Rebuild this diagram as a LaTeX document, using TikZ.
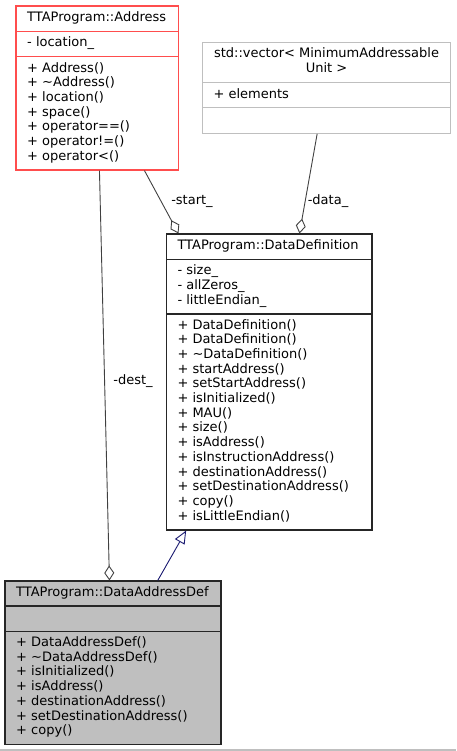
\documentclass[tikz,border=0pt]{standalone}
\usepackage{fontspec}
\setmainfont{DejaVu Sans}
\usetikzlibrary{arrows.meta}
\definecolor{edgegrey}{HTML}{404040}
\definecolor{lightgrey}{HTML}{BFBFBF}
\definecolor{addrred}{HTML}{FF4D4D}
\definecolor{basenavy}{HTML}{191970}
\definecolor{boxdark}{HTML}{262626}

\begin{document}
\begin{tikzpicture}[x=1pt,y=-1pt,font=\fontsize{13}{14.7}\selectfont]
\tikzset{
  classbox/.style={draw=#1,line width=1.1pt,inner sep=0pt},
  member/.style={anchor=base west,inner sep=0pt},
  lbl/.style={inner sep=0pt},
  aggr/.style={draw=edgegrey,line width=0.9pt,-{Diamond[open,length=15pt,width=10pt]}},
  inherit/.style={draw=basenavy,line width=0.9pt,-{Triangle[open,length=13pt,width=11pt]}}
}
\useasboundingbox (0,0) rectangle (456,751);
\draw[lightgrey,line width=1.5pt] (0,750) -- (456,750);

% TTAProgram::Address
\node[classbox=addrred,minimum width=162.3,minimum height=164] (addr) at (97.15,88) {};
\draw[addrred,line width=1.1pt] (16,31.7) -- (178.3,31.7);
\draw[addrred,line width=1.1pt] (16,56.7) -- (178.3,56.7);
\node[member] (addrname) at (27,21.3) {TTAProgram::Address};
\node[member] (addrattr) at (27,46.7) {- location\_};
\foreach \m [count=\i from 0] in {+ Address(),+ \textasciitilde Address(),+ location(),+ space(),
    + operator==(),+ operator!=(),+ operator<()}
  \node[member] (addrop\i) at (27,72.3+14.67*\i) {\m};

% std::vector< MinimumAddressable Unit >
\node[classbox=lightgrey,minimum width=247.6,minimum height=90.6] (vec) at (326.5,88) {};
\draw[lightgrey,line width=1.1pt] (202.7,82.3) -- (450.3,82.3);
\draw[lightgrey,line width=1.1pt] (202.7,107.7) -- (450.3,107.7);
\node[anchor=base,inner sep=0pt] (vecname1) at (326.5,58) {std::vector< MinimumAddressable};
\node[anchor=base,inner sep=0pt] (vecname2) at (326.5,72.3) {Unit >};
\node[member] (vecattr) at (213.3,98.3) {+ elements};

% TTAProgram::DataDefinition
\node[classbox=boxdark,minimum width=205.3,minimum height=296] (dd) at (269.35,382) {};
\draw[boxdark,line width=1.1pt] (166.7,259.3) -- (372,259.3);
\draw[boxdark,line width=1.1pt] (166.7,314) -- (372,314);
\node[member] (ddname) at (177.3,249.7) {TTAProgram::DataDefinition};
\foreach \a [count=\i from 0] in {- size\_,- allZeros\_,- littleEndian\_}
  \node[member] (ddattr\i) at (177.3,274.7+14.67*\i) {\a};
\foreach \m [count=\i from 0] in {+ DataDefinition(),+ DataDefinition(),+ \textasciitilde DataDefinition(),
    + startAddress(),+ setStartAddress(),+ isInitialized(),+ MAU(),+ size(),+ isAddress(),
    + isInstructionAddress(),+ destinationAddress(),+ setDestinationAddress(),+ copy(),
    + isLittleEndian()}
  \node[member] (ddop\i) at (177.3,329.3+14.67*\i) {\m};

% TTAProgram::DataAddressDef
\node[classbox=boxdark,fill=lightgrey,minimum width=216,minimum height=163.3] (dad) at (113,662.65) {};
\draw[boxdark,line width=1.1pt] (5,606) -- (221,606);
\draw[boxdark,line width=1.1pt] (5,631.3) -- (221,631.3);
\node[member] (dadname) at (16,596) {TTAProgram::DataAddressDef};
\foreach \m [count=\i from 0] in {+ DataAddressDef(),+ \textasciitilde DataAddressDef(),+ isInitialized(),
    + isAddress(),+ destinationAddress(),+ setDestinationAddress(),+ copy()}
  \node[member] (dadop\i) at (16,646.3+14.75*\i) {\m};

% relations
\draw[aggr] ([xshift=84pt]addr.south west) -- ([xshift=105pt]dad.north west);
\draw[aggr] ([xshift=129pt]addr.south west) -- ([xshift=12.3pt]dd.north west);
\draw[aggr] ([xshift=115pt]vec.south west) -- ([xshift=133.3pt]dd.north west);
\draw[inherit] ([xshift=153.3pt]dad.north west) -- ([xshift=20pt]dd.south west);
\node[lbl] (destlbl) at (133,381) {-dest\_};
\node[lbl] (startlbl) at (192,201) {-start\_};
\node[lbl] (datalbl) at (328,201) {-data\_};
\end{tikzpicture}
\end{document}
